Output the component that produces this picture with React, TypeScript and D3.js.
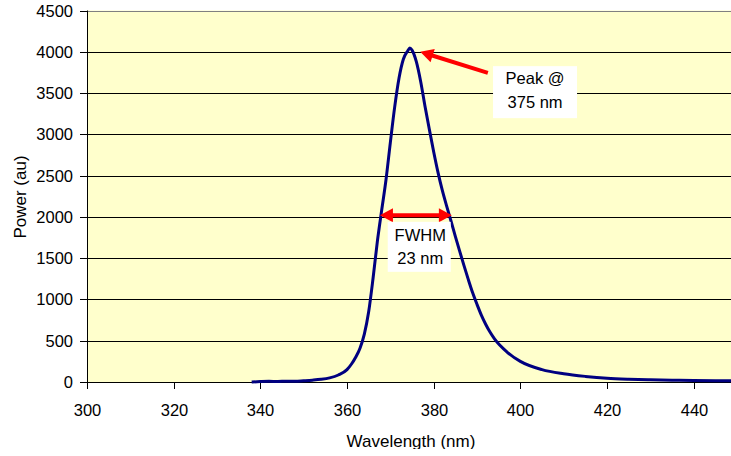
import { scaleLinear, line as d3Line, curveMonotoneX } from "d3";

// spectrum
const wavelengths = [
  338, 340, 342, 344, 346, 348, 350, 352, 354, 356, 358, 360, 361, 362, 363,
  364, 365, 366, 367, 368, 369, 370, 371, 372, 373, 374, 374.5, 375, 376, 377,
  378, 379, 380, 381, 382, 383, 384, 385, 386, 387, 388, 389, 390, 391, 392,
  393, 394, 397, 400, 405, 410, 415, 420, 425, 430, 435, 440, 445, 450,
];
const power = [
  0, 5, 8, 6, 10, 9, 15, 22, 32, 50, 85, 150, 215, 300, 410, 580, 850, 1250,
  1700, 2080, 2450, 2900, 3330, 3680, 3910, 4010, 4045, 4020, 3880, 3640, 3340,
  3060, 2790, 2540, 2320, 2130, 1950, 1765, 1585, 1410, 1240, 1080, 940, 810,
  700, 605, 525, 360, 250, 150, 100, 68, 45, 33, 26, 21, 18, 16, 15,
];

const xTicks = [300, 320, 340, 360, 380, 400, 420, 440];
const yTicks = [0, 500, 1000, 1500, 2000, 2500, 3000, 3500, 4000, 4500];

const peakLabel = ["Peak @", "375 nm"];
const fwhmLabel = ["FWHM", "23 nm"];

type Pt = { x: number; y: number };

const arrowHead = (from: Pt, to: Pt, len = 13, half = 7) => {
  const dx = to.x - from.x;
  const dy = to.y - from.y;
  const d = Math.hypot(dx, dy);
  const ux = dx / d;
  const uy = dy / d;
  const bx = to.x - ux * len;
  const by = to.y - uy * len;
  return `${to.x},${to.y} ${bx - uy * half},${by + ux * half} ${bx + uy * half},${by - ux * half}`;
};

const shorten = (from: Pt, to: Pt, by: number): Pt => {
  const dx = to.x - from.x;
  const dy = to.y - from.y;
  const d = Math.hypot(dx, dy);
  return { x: to.x - (dx / d) * by, y: to.y - (dy / d) * by };
};

export default function App() {
  const left = 87;
  const top = 10.5;
  const bottom = 382;
  const W = 731;
  const H = 449;
  const font = "Arial, 'Liberation Sans', sans-serif";

  const x = scaleLinear().domain([300, 450]).range([left, 737]);
  const y = scaleLinear().domain([0, 4500]).range([bottom, top]);

  const data = wavelengths.map((w, i) => ({ w, p: power[i] }));
  const path =
    d3Line<{ w: number; p: number }>()
      .x((d) => x(d.w))
      .y((d) => y(d.p))
      .curve(curveMonotoneX)(data) ?? "";

  // annotations in data units
  const peakTail = { x: x(392.5), y: y(3745) };
  const peakTip = { x: x(376.9), y: y(4000) };
  const fwhmL = { x: x(367.6), y: y(2020) };
  const fwhmR = { x: x(384.2), y: y(2020) };

  const red = "#FF0000";

  return (
    <svg
      width={W}
      height={H}
      style={{ position: "absolute", left: 0, top: 0, background: "#fff" }}
      fontFamily={font}
    >
      <rect x={left} y={top} width={W - left} height={bottom - top} fill="#FFFFCC" />

      {yTicks.map((t) => (
        <line
          key={`g-${t}`}
          x1={left}
          x2={W}
          y1={Math.round(y(t)) + 0.5}
          y2={Math.round(y(t)) + 0.5}
          stroke={t === 4500 ? "#808080" : "#000"}
          strokeWidth={1}
        />
      ))}

      <line x1={left + 0.5} x2={left + 0.5} y1={top} y2={bottom} stroke="#000" />
      <line x1={left} x2={W} y1={bottom + 0.5} y2={bottom + 0.5} stroke="#000" />

      {yTicks.map((t) => (
        <g key={`yt-${t}`} transform={`translate(0,${Math.round(y(t)) + 0.5})`}>
          <line x1={80} x2={left} stroke="#000" />
          <text x={73} dy="0.36em" textAnchor="end" fontSize={16.5} fill="#000">
            {t}
          </text>
        </g>
      ))}

      {xTicks.map((t) => (
        <g key={`xt-${t}`} transform={`translate(${Math.round(x(t)) + 0.5},0)`}>
          <line y1={bottom} y2={bottom + 7} stroke="#000" />
          <text y={416} textAnchor="middle" fontSize={16.5} fill="#000">
            {t}
          </text>
        </g>
      ))}

      <path d={path} fill="none" stroke="#000080" strokeWidth={3} strokeLinejoin="round" />

      {/* peak annotation */}
      {(() => {
        const end = shorten(peakTail, peakTip, 10);
        return (
          <g>
            <line x1={peakTail.x} y1={peakTail.y} x2={end.x} y2={end.y} stroke={red} strokeWidth={4} />
            <polygon points={arrowHead(peakTail, peakTip)} fill={red} />
          </g>
        );
      })()}
      <rect x={x(393.7)} y={y(3826)} width={84} height={52} fill="#fff" />
      {peakLabel.map((s, i) => (
        <text
          key={s}
          x={x(403.4)}
          y={84 + i * 23.5}
          textAnchor="middle"
          fontSize={16.5}
          fill="#000"
        >
          {s}
        </text>
      ))}

      {/* FWHM annotation */}
      {(() => {
        const a = shorten(fwhmR, fwhmL, 10);
        const b = shorten(fwhmL, fwhmR, 10);
        return (
          <g>
            <line x1={a.x} y1={a.y} x2={b.x} y2={b.y} stroke={red} strokeWidth={4} />
            <polygon points={arrowHead(fwhmR, fwhmL)} fill={red} />
            <polygon points={arrowHead(fwhmL, fwhmR)} fill={red} />
          </g>
        );
      })()}
      <rect x={x(369.4)} y={y(1940)} width={63} height={50} fill="#fff" />
      {fwhmLabel.map((s, i) => (
        <text
          key={s}
          x={x(376.9)}
          y={241 + i * 23}
          textAnchor="middle"
          fontSize={16.5}
          fill="#000"
        >
          {s}
        </text>
      ))}

      <text x={411} y={447} textAnchor="middle" fontSize={17} fill="#000">
        Wavelength (nm)
      </text>
      <text
        transform="translate(26,197) rotate(-90)"
        textAnchor="middle"
        fontSize={17}
        fill="#000"
      >
        Power (au)
      </text>
    </svg>
  );
}
